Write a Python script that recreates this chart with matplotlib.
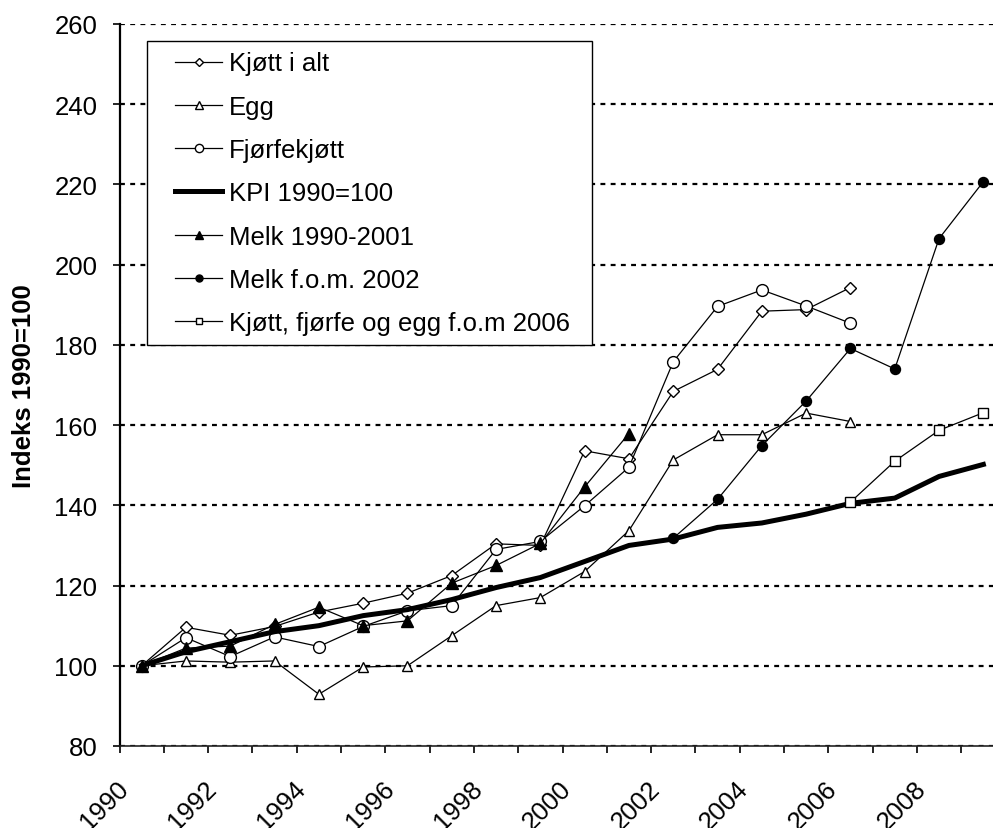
import numpy as np
import matplotlib
matplotlib.use("Agg")
import matplotlib.pyplot as plt
import matplotlib.transforms as mtransforms
from matplotlib.patches import Rectangle

plt.rcParams['font.family'] = ['Liberation Sans', 'DejaVu Sans']

years = list(range(1990, 2010))
nan = np.nan

kjott_i_alt = [100, 109.6, 107.6, 109.8, 113.4, 115.6, 118.1, 122.5, 130.4, 130.0,
               153.6, 151.6, 168.4, 173.9, 188.4, 188.8, 194.3, nan, nan, nan]
egg = [100, 101.2, 100.9, 101.2, 92.9, 99.7, 100.0, 107.5, 115.0, 117.0,
       123.5, 133.7, 151.3, 157.6, 157.6, 163.0, 160.9, nan, nan, nan]
fjorfekjott = [100, 107.0, 102.3, 107.2, 104.8, 109.8, 113.7, 115.0, 129.0, 131.0,
               139.9, 149.5, 175.8, 189.6, 193.7, 189.7, 185.4, nan, nan, nan]
kpi = [100, 103.5, 106.0, 108.5, 110.0, 112.5, 114.0, 116.5, 119.5, 122.0,
       126.0, 130.0, 131.6, 134.5, 135.6, 137.8, 140.5, 141.8, 147.2, 150.2]
melk_1990_2001 = [100, 104.4, 104.9, 110.3, 114.6, 110.0, 111.2, 120.6, 125.0, 130.5,
                  144.6, 157.9, nan, nan, nan, nan, nan, nan, nan, nan]
melk_fom_2002 = [nan] * 12 + [131.8, 141.5, 154.9, 166.0, 179.1, 174.0, 206.5, 220.7]
kjott_fjorfe_egg_2006 = [nan] * 16 + [140.8, 151.0, 158.7, 163.1]

labels = ["Kjøtt i alt", "Egg", "Fjørfekjøtt", "KPI 1990=100", "Melk 1990-2001",
          "Melk f.o.m. 2002", "Kjøtt, fjørfe og egg f.o.m 2006"]

FS = 18.5
fig = plt.figure(figsize=(9.93, 8.29), dpi=100)
ax = fig.add_axes([119.5 / 993, 82 / 829, 886 / 993, 722 / 829])
x = np.arange(len(years))

thin = dict(color='black', lw=0.9, mec='black', mew=1.0)
ax.plot(x, kjott_i_alt, marker='D', ms=5.8, mfc='white', label=labels[0], **thin)
ax.plot(x, egg, marker='^', ms=7.5, mfc='white', label=labels[1], **thin)
ax.plot(x, fjorfekjott, marker='o', ms=8.5, mfc='white', label=labels[2], **thin)
ax.plot(x, kpi, color='black', lw=3.6, solid_joinstyle='round', label=labels[3])
ax.plot(x, melk_1990_2001, marker='^', ms=8.0, mfc='black', label=labels[4], **thin)
ax.plot(x, melk_fom_2002, marker='o', ms=7.2, mfc='black', label=labels[5], **thin)
ax.plot(x, kjott_fjorfe_egg_2006, marker='s', ms=6.5, mfc='white', label=labels[6], **thin)

ax.set_xlim(-0.5, 19.5)
ax.set_ylim(80, 260)
ax.set_yticks(np.arange(80, 261, 20))
ax.yaxis.grid(True, color='black', lw=1.6, linestyle=(0, (2.2, 2.4)))
ax.set_axisbelow(True)

bounds = np.arange(len(years) + 1) - 0.5
ax.set_xticks(bounds)
ax.set_xticklabels([str(1990 + i) if i % 2 == 0 and i < 19 else '' for i in range(len(bounds))])

for s in ['top', 'right']:
    ax.spines[s].set_visible(False)
ax.spines['left'].set_linewidth(1.6)
ax.spines['bottom'].set_linewidth(1.2)
ax.spines['bottom'].set_color('#222222')

ax.tick_params(axis='y', direction='out', length=5, width=1.2, pad=11, labelsize=FS)
ax.tick_params(axis='x', direction='out', length=5, width=1.2, pad=22.5, labelsize=FS)

offset = mtransforms.ScaledTranslation(5 / 100, 0, fig.dpi_scale_trans)
for lab in ax.get_xticklabels():
    lab.set_rotation(45)
    lab.set_ha('right')
    lab.set_va('center')
    lab.set_rotation_mode('anchor')
    lab.set_transform(lab.get_transform() + offset)

ax.set_ylabel("Indeks 1990=100", fontsize=FS, fontweight='bold', labelpad=13)

# legend frame drawn separately so the side padding can be wider than the top
frame = Rectangle((146.7 / 993, 1 - 346 / 829), 445 / 993, 304.3 / 829,
                  transform=fig.transFigure, facecolor='white', edgecolor='black',
                  lw=1.0, zorder=4, clip_on=False)
ax.add_patch(frame)

leg = ax.legend(loc='upper left', borderaxespad=0, fontsize=FS, markerscale=0.7,
                handlelength=1.83, handletextpad=0.27, labelspacing=0.75, borderpad=0,
                frameon=False)
leg.set_bbox_to_anchor((175 / 993, 1 - 52.5 / 829), transform=fig.transFigure)
leg.set_zorder(5)

fig.savefig("out.png", dpi=100)
